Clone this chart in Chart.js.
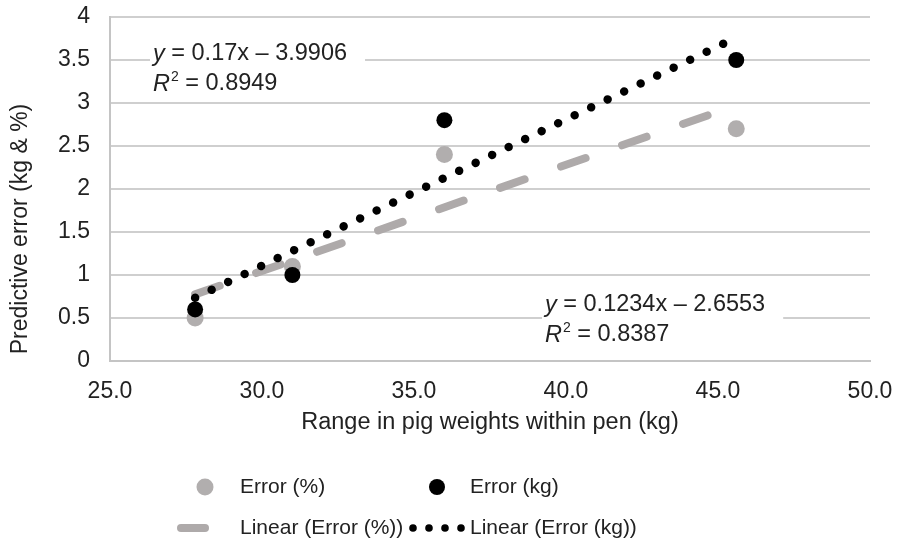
<!DOCTYPE html>
<html>
<head>
<meta charset="utf-8">
<script src="https://cdn.jsdelivr.net/npm/chart.js@4"></script>
<style>
  html,body{margin:0;padding:0;background:#fff;}
  #wrap{width:898px;height:542px;position:relative;}
</style>
</head>
<body>
<div id="wrap"><canvas id="chart"></canvas></div>
<script>
/* data */
const pigRange = [27.8, 31.0, 36.0, 45.6];
const errPct   = [0.5, 1.1, 2.4, 2.7];
const errKg    = [0.6, 1.0, 2.8, 3.5];
// trendline ends (excel linear fit over the data range)
const trendX   = [27.8, 45.6];
const trendPct = [0.775, 2.972];
const trendKg  = [0.735, 3.761];

const eqKg  = {eq:" = 0.17x – 3.9906",   r2:" = 0.8949"};
const eqPct = {eq:" = 0.1234x – 2.6553", r2:" = 0.8387"};

const FONT = "'Liberation Sans', Arial, sans-serif";
const TXT = "#222222";
const GREY_PT = "#b1aeae";
const GREY_LN = "#aeaaaa";

function pts(xs, ys){ return xs.map((x,i)=>({x, y:ys[i]})); }

/* equation boxes, anchored in data units */
const EQ_POS = [
  {x:26.41, y:3.57, lab:eqKg},
  {x:39.31, y:0.65, lab:eqPct},
];

const eqPlugin = {
  id:"eqLabels",
  afterDraw(chart){
    const {ctx, scales:{x,y}} = chart;
    ctx.save();
    ctx.textBaseline = "middle";
    EQ_POS.forEach(p=>{
      const px = Math.round(x.getPixelForValue(p.x)), py = Math.round(y.getPixelForValue(p.y));
      const lh = 30;
      ctx.font = "italic 23.5px " + FONT;
      const wy = ctx.measureText("y").width, wr = ctx.measureText("R").width;
      ctx.font = "23.5px " + FONT;
      const w1 = wy + ctx.measureText(p.lab.eq).width;
      ctx.fillStyle = "#fff";
      ctx.fillRect(px - 3, py - 17, w1 + 21, lh + 32);
      ctx.fillStyle = TXT;
      ctx.font = "italic 23.5px " + FONT;
      ctx.fillText("y", px, py);
      ctx.fillText("R", px, py + lh);
      ctx.font = "23.5px " + FONT;
      ctx.fillText(p.lab.eq, px + wy, py);
      ctx.font = "14px " + FONT;
      ctx.fillText("2", px + wr + 1, py + lh - 7);
      const w2 = ctx.measureText("2").width;
      ctx.font = "23.5px " + FONT;
      ctx.fillText(p.lab.r2, px + wr + 1 + w2, py + lh);
    });
    ctx.restore();
  }
};

/* y title + two-row legend, drawn like excel does it */
const extrasPlugin = {
  id:"extras",
  afterDraw(chart){
    const ctx = chart.ctx;
    ctx.save();
    ctx.fillStyle = TXT;
    ctx.textBaseline = "middle";
    ctx.font = "23px " + FONT;
    ctx.translate(21, 229);
    ctx.rotate(-Math.PI/2);
    ctx.textAlign = "center";
    ctx.fillText("Predictive error (kg & %)", 0, 0);
    ctx.restore();

    ctx.save();
    ctx.textBaseline = "middle";
    ctx.font = "21px " + FONT;
    const r1 = 487, r2 = 528;
    ctx.fillStyle = GREY_PT;
    ctx.beginPath(); ctx.arc(205, r1, 8.5, 0, Math.PI*2); ctx.fill();
    ctx.fillStyle = "#000";
    ctx.beginPath(); ctx.arc(437, r1, 8, 0, Math.PI*2); ctx.fill();
    ctx.strokeStyle = GREY_LN; ctx.lineWidth = 8; ctx.lineCap = "round";
    ctx.beginPath(); ctx.moveTo(181, r2); ctx.lineTo(205, r2); ctx.stroke();
    [413, 429, 445, 461].forEach(cx=>{
      ctx.beginPath(); ctx.arc(cx, r2, 3.8, 0, Math.PI*2); ctx.fill();
    });
    ctx.fillStyle = TXT;
    ctx.fillText("Error (%)", 240, r1);
    ctx.fillText("Error (kg)", 470, r1);
    ctx.fillText("Linear (Error (%))", 240, r2);
    ctx.fillText("Linear (Error (kg))", 470, r2);
    ctx.restore();
  }
};

new Chart(document.getElementById("chart"), {
  type:"scatter",
  data:{
    datasets:[
      {label:"Error (kg)", data:pts(pigRange, errKg), pointRadius:8, pointHoverRadius:8,
       backgroundColor:"#000", borderWidth:0, order:1},
      {label:"Linear (Error (kg))", data:pts(trendX, trendKg), showLine:true, pointRadius:0,
       borderColor:"#000", borderWidth:8.5, borderDash:[0.01, 18.3], borderCapStyle:"round", order:2},
      {label:"Linear (Error (%))", data:pts(trendX, trendPct), showLine:true, pointRadius:0,
       borderColor:GREY_LN, borderWidth:8, borderDash:[26, 38.6], borderCapStyle:"round", order:3},
      {label:"Error (%)", data:pts(pigRange, errPct), pointRadius:8.5, pointHoverRadius:8.5,
       backgroundColor:GREY_PT, borderWidth:0, order:4},
    ]
  },
  options:{
    responsive:true, maintainAspectRatio:false, animation:false,
    layout:{padding:{top:17, right:28, bottom:101, left:0}},
    plugins:{legend:{display:false}, tooltip:{enabled:false}},
    scales:{
      x:{
        min:25, max:50,
        afterFit(s){ s.height = 80; s.paddingLeft = 0; s.paddingRight = 0; },
        grid:{display:false, drawTicks:false},
        border:{display:true, color:"#c4c4c4", width:2},
        ticks:{stepSize:5, padding:17, color:TXT, font:{family:FONT, size:23},
               callback:v=>Number(v).toFixed(1)},
        title:{display:true, text:"Range in pig weights within pen (kg)", color:TXT,
               font:{family:FONT, size:23.5}, padding:{top:0, bottom:4}}
      },
      y:{
        min:0, max:4,
        afterFit(s){ s.width = 110; s.paddingTop = 0; s.paddingBottom = 0; },
        grid:{color:"#cfcfcf", lineWidth:2, drawTicks:false},
        border:{display:true, color:"#c4c4c4", width:2},
        ticks:{stepSize:0.5, padding:20, color:TXT, font:{family:FONT, size:23},
               callback:v=>String(v)}
      }
    }
  },
  plugins:[eqPlugin, extrasPlugin]
});
</script>
</body>
</html>
